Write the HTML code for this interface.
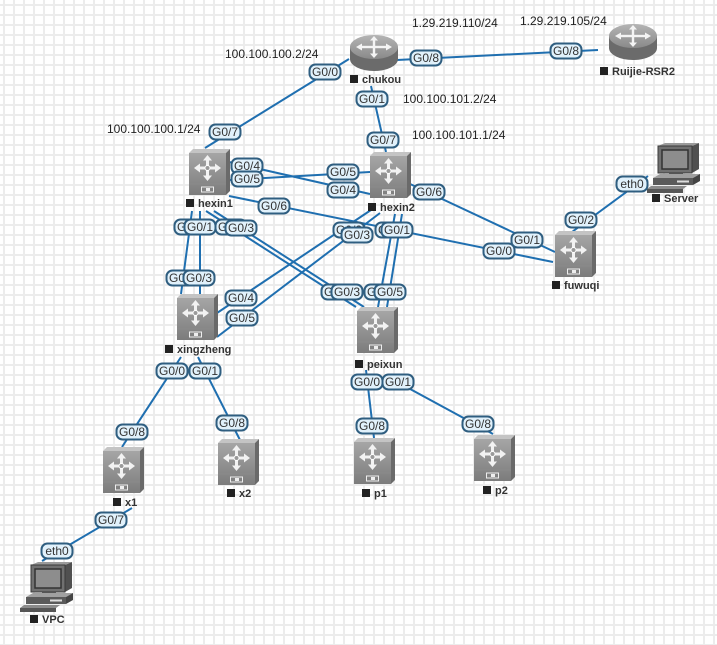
<!DOCTYPE html>
<html>
<head>
<meta charset="utf-8">
<style>
html,body{margin:0;padding:0;background:#fff;}
svg{display:block;}
.pl rect{fill:#e1f1fb;stroke:#2f5e80;stroke-width:2;}
.pl text{font-family:"Liberation Sans",sans-serif;font-size:12px;fill:#333;text-anchor:middle;}
.ip{font-family:"Liberation Sans",sans-serif;font-size:12px;fill:#222;}
.nm{font-family:"Liberation Sans",sans-serif;font-size:11px;font-weight:bold;fill:#333;}
.ln path{stroke:#1f6fb0;stroke-width:2;fill:none;}
</style>
</head>
<body>
<svg width="717" height="645" viewBox="0 0 717 645" xmlns="http://www.w3.org/2000/svg">
<defs>
  <pattern id="grid" patternUnits="userSpaceOnUse" x="3" y="4" width="10" height="10">
    <rect width="10" height="10" fill="#fff"/>
    <rect x="0" y="0" width="2" height="10" fill="#ececec"/>
    <rect x="0" y="0" width="10" height="2" fill="#ececec"/>
  </pattern>
  <linearGradient id="gsw" x1="0" y1="0" x2="0" y2="1">
    <stop offset="0" stop-color="#a6a6a6"/>
    <stop offset="1" stop-color="#7c7c7c"/>
  </linearGradient>
  <linearGradient id="grt" x1="0" y1="0" x2="0" y2="1">
    <stop offset="0" stop-color="#b4b4b4"/>
    <stop offset="1" stop-color="#8a8a8a"/>
  </linearGradient>
  <g id="sw">
    <polygon points="0,4 4,0 41,0 37,4" fill="#c4c4c4"/>
    <polygon points="37,4 41,0 41,42 37,46" fill="#6a6a6a"/>
    <rect x="0" y="4" width="37" height="42" fill="url(#gsw)"/>
    <line x1="0" y1="35" x2="37" y2="35" stroke="#8a8a8a" stroke-width="1"/>
    <rect x="12.5" y="38" width="12" height="5" fill="none" stroke="#eee" stroke-width="1"/>
    <rect x="17" y="39" width="4" height="3" fill="#eee"/>
    <g fill="#f2f2f2">
      <rect x="10" y="17.5" width="17" height="3"/>
      <rect x="17" y="11" width="3" height="16"/>
      <polygon points="5,19 11,14.5 11,23.5"/>
      <polygon points="32,19 26,14.5 26,23.5"/>
      <polygon points="18.5,6 14,11.5 23,11.5"/>
      <polygon points="18.5,32 14,26.5 23,26.5"/>
    </g>
    <circle cx="18.5" cy="19" r="2.5" fill="#9a9a9a" stroke="#fff" stroke-width="1"/>
  </g>
  <g id="rt">
    <path d="M0,14 v12 a24,12 0 0 0 48,0 v-12 z" fill="#6b6b6b"/>
    <ellipse cx="24" cy="14" rx="24" ry="12" fill="url(#grt)"/>
    <g fill="#f4f4f4">
      <rect x="12" y="12.8" width="24" height="2.4"/>
      <rect x="22.8" y="6" width="2.4" height="16"/>
      <polygon points="6,14 12,10.5 12,17.5"/>
      <polygon points="42,14 36,10.5 36,17.5"/>
      <polygon points="24,3 20,7.5 28,7.5"/>
      <polygon points="24,25 20,20.5 28,20.5"/>
    </g>
  </g>
  <g id="pc">
    <polygon points="45,3 52,0 52,26 45,30" fill="#505050"/>
    <polygon points="11,3 18,0 52,0 45,3" fill="#9a9a9a"/>
    <rect x="11" y="3" width="34" height="27" fill="#707070" stroke="#3a3a3a" stroke-width="1"/>
    <rect x="15" y="7" width="26" height="19" fill="#8d8d8d" stroke="#333" stroke-width="1.5"/>
    <rect x="22" y="30" width="14" height="3" fill="#555"/>
    <polygon points="6,35 13,31 53,31 46,35" fill="#a0a0a0"/>
    <rect x="6" y="35" width="40" height="7" fill="#5a5a5a"/>
    <polygon points="46,35 53,31 53,38 46,42" fill="#444"/>
    <rect x="30" y="37.5" width="12" height="2" fill="#ddd"/>
    <polygon points="0,46 4,43 40,43 36,46" fill="#8a8a8a"/>
    <rect x="0" y="46" width="36" height="4" fill="#555"/>
  </g>
</defs>

<rect width="717" height="645" fill="url(#grid)"/>

<g class="ln">
  <path d="M349,59 L205,148"/>
  <path d="M397,60 L598,50"/>
  <path d="M371,86 L386,152"/>
  <path d="M229,162 L370,194"/>
  <path d="M229,180 L370,172"/>
  <path d="M229,196 L553,262"/>
  <path d="M408,183 L555,252"/>
  <path d="M648,176 L572,232"/>
  <path d="M192,211 L181,294"/>
  <path d="M200,211 L200,294"/>
  <path d="M206,211 L356,307"/>
  <path d="M214,211 L364,307"/>
  <path d="M395,214 L378,307"/>
  <path d="M402,214 L387,307"/>
  <path d="M217,313 L371,210"/>
  <path d="M217,337 L380,213"/>
  <path d="M181,357 L122,447"/>
  <path d="M198,357 L240,440"/>
  <path d="M132,508 L42,561"/>
  <path d="M366,370 L374,438"/>
  <path d="M388,377 L493,434"/>
</g>

<!-- nodes -->
<use href="#sw" x="189" y="149"/>
<use href="#sw" x="370" y="152"/>
<use href="#sw" x="555" y="231"/>
<use href="#sw" x="177" y="294"/>
<use href="#sw" x="357" y="307"/>
<use href="#sw" x="103" y="447"/>
<use href="#sw" x="218" y="439"/>
<use href="#sw" x="354" y="438"/>
<use href="#sw" x="474" y="435"/>
<use href="#rt" x="350" y="33"/>
<use href="#rt" x="609" y="22"/>
<use href="#pc" x="647" y="143"/>
<use href="#pc" x="20" y="562"/>

<!-- node names -->
<g>
  <rect x="186" y="199" width="8" height="8" fill="#222"/><text class="nm" x="198" y="207">hexin1</text>
  <rect x="368" y="203" width="8" height="8" fill="#222"/><text class="nm" x="380" y="211">hexin2</text>
  <rect x="350" y="75" width="8" height="8" fill="#222"/><text class="nm" x="362" y="83">chukou</text>
  <rect x="600" y="67" width="8" height="8" fill="#222"/><text class="nm" x="612" y="75">Ruijie-RSR2</text>
  <rect x="652" y="194" width="8" height="8" fill="#222"/><text class="nm" x="664" y="202">Server</text>
  <rect x="552" y="281" width="8" height="8" fill="#222"/><text class="nm" x="564" y="289">fuwuqi</text>
  <rect x="165" y="345" width="8" height="8" fill="#222"/><text class="nm" x="177" y="353">xingzheng</text>
  <rect x="355" y="360" width="8" height="8" fill="#222"/><text class="nm" x="367" y="368">peixun</text>
  <rect x="113" y="498" width="8" height="8" fill="#222"/><text class="nm" x="125" y="506">x1</text>
  <rect x="227" y="489" width="8" height="8" fill="#222"/><text class="nm" x="239" y="497">x2</text>
  <rect x="30" y="615" width="8" height="8" fill="#222"/><text class="nm" x="42" y="623">VPC</text>
  <rect x="362" y="489" width="8" height="8" fill="#222"/><text class="nm" x="374" y="497">p1</text>
  <rect x="483" y="486" width="8" height="8" fill="#222"/><text class="nm" x="495" y="494">p2</text>
</g>

<!-- IP labels -->
<text class="ip" x="225" y="58">100.100.100.2/24</text>
<text class="ip" x="107" y="133">100.100.100.1/24</text>
<text class="ip" x="412" y="27">1.29.219.110/24</text>
<text class="ip" x="520" y="25">1.29.219.105/24</text>
<text class="ip" x="403" y="103">100.100.101.2/24</text>
<text class="ip" x="412" y="139">100.100.101.1/24</text>

<!-- port pills -->
<g class="pl">
  <g transform="translate(325,72)"><rect x="-15.5" y="-7.5" width="31" height="15" rx="6"/><text y="4">G0/0</text></g>
  <g transform="translate(225,132)"><rect x="-15.5" y="-7.5" width="31" height="15" rx="6"/><text y="4">G0/7</text></g>
  <g transform="translate(426,58)"><rect x="-15.5" y="-7.5" width="31" height="15" rx="6"/><text y="4">G0/8</text></g>
  <g transform="translate(566,51)"><rect x="-15.5" y="-7.5" width="31" height="15" rx="6"/><text y="4">G0/8</text></g>
  <g transform="translate(372,99)"><rect x="-15.5" y="-7.5" width="31" height="15" rx="6"/><text y="4">G0/1</text></g>
  <g transform="translate(383,140)"><rect x="-15.5" y="-7.5" width="31" height="15" rx="6"/><text y="4">G0/7</text></g>
  <g transform="translate(247,166)"><rect x="-15.5" y="-7.5" width="31" height="15" rx="6"/><text y="4">G0/4</text></g>
  <g transform="translate(247,179)"><rect x="-15.5" y="-7.5" width="31" height="15" rx="6"/><text y="4">G0/5</text></g>
  <g transform="translate(343,172)"><rect x="-15.5" y="-7.5" width="31" height="15" rx="6"/><text y="4">G0/5</text></g>
  <g transform="translate(343,190)"><rect x="-15.5" y="-7.5" width="31" height="15" rx="6"/><text y="4">G0/4</text></g>
  <g transform="translate(274,206)"><rect x="-15.5" y="-7.5" width="31" height="15" rx="6"/><text y="4">G0/6</text></g>
  <g transform="translate(429,192)"><rect x="-15.5" y="-7.5" width="31" height="15" rx="6"/><text y="4">G0/6</text></g>
  <g transform="translate(632,184)"><rect x="-15.5" y="-7.5" width="31" height="15" rx="6"/><text y="4">eth0</text></g>
  <g transform="translate(581,220)"><rect x="-15.5" y="-7.5" width="31" height="15" rx="6"/><text y="4">G0/2</text></g>
  <g transform="translate(499,251)"><rect x="-15.5" y="-7.5" width="31" height="15" rx="6"/><text y="4">G0/0</text></g>
  <g transform="translate(527,240)"><rect x="-15.5" y="-7.5" width="31" height="15" rx="6"/><text y="4">G0/1</text></g>
  <g transform="translate(190,227)"><rect x="-15.5" y="-7.5" width="31" height="15" rx="6"/><text y="4">G0/0</text></g>
  <g transform="translate(200,227)"><rect x="-15.5" y="-7.5" width="31" height="15" rx="6"/><text y="4">G0/1</text></g>
  <g transform="translate(231,227)"><rect x="-15.5" y="-7.5" width="31" height="15" rx="6"/><text y="4">G0/2</text></g>
  <g transform="translate(241,228)"><rect x="-15.5" y="-7.5" width="31" height="15" rx="6"/><text y="4">G0/3</text></g>
  <g transform="translate(182,278)"><rect x="-15.5" y="-7.5" width="31" height="15" rx="6"/><text y="4">G0/2</text></g>
  <g transform="translate(199,278)"><rect x="-15.5" y="-7.5" width="31" height="15" rx="6"/><text y="4">G0/3</text></g>
  <g transform="translate(241,298)"><rect x="-15.5" y="-7.5" width="31" height="15" rx="6"/><text y="4">G0/4</text></g>
  <g transform="translate(242,318)"><rect x="-15.5" y="-7.5" width="31" height="15" rx="6"/><text y="4">G0/5</text></g>
  <g transform="translate(349,230)"><rect x="-15.5" y="-7.5" width="31" height="15" rx="6"/><text y="4">G0/2</text></g>
  <g transform="translate(357,235)"><rect x="-15.5" y="-7.5" width="31" height="15" rx="6"/><text y="4">G0/3</text></g>
  <g transform="translate(391,230)"><rect x="-15.5" y="-7.5" width="31" height="15" rx="6"/><text y="4">G0/0</text></g>
  <g transform="translate(397,230)"><rect x="-15.5" y="-7.5" width="31" height="15" rx="6"/><text y="4">G0/1</text></g>
  <g transform="translate(337,292)"><rect x="-15.5" y="-7.5" width="31" height="15" rx="6"/><text y="4">G0/2</text></g>
  <g transform="translate(347,292)"><rect x="-15.5" y="-7.5" width="31" height="15" rx="6"/><text y="4">G0/3</text></g>
  <g transform="translate(380,292)"><rect x="-15.5" y="-7.5" width="31" height="15" rx="6"/><text y="4">G0/4</text></g>
  <g transform="translate(390,292)"><rect x="-15.5" y="-7.5" width="31" height="15" rx="6"/><text y="4">G0/5</text></g>
  <g transform="translate(367,382)"><rect x="-15.5" y="-7.5" width="31" height="15" rx="6"/><text y="4">G0/0</text></g>
  <g transform="translate(398,382)"><rect x="-15.5" y="-7.5" width="31" height="15" rx="6"/><text y="4">G0/1</text></g>
  <g transform="translate(372,426)"><rect x="-15.5" y="-7.5" width="31" height="15" rx="6"/><text y="4">G0/8</text></g>
  <g transform="translate(478,424)"><rect x="-15.5" y="-7.5" width="31" height="15" rx="6"/><text y="4">G0/8</text></g>
  <g transform="translate(172,371)"><rect x="-15.5" y="-7.5" width="31" height="15" rx="6"/><text y="4">G0/0</text></g>
  <g transform="translate(205,371)"><rect x="-15.5" y="-7.5" width="31" height="15" rx="6"/><text y="4">G0/1</text></g>
  <g transform="translate(132,432)"><rect x="-15.5" y="-7.5" width="31" height="15" rx="6"/><text y="4">G0/8</text></g>
  <g transform="translate(232,423)"><rect x="-15.5" y="-7.5" width="31" height="15" rx="6"/><text y="4">G0/8</text></g>
  <g transform="translate(111,520)"><rect x="-15.5" y="-7.5" width="31" height="15" rx="6"/><text y="4">G0/7</text></g>
  <g transform="translate(57,551)"><rect x="-15.5" y="-7.5" width="31" height="15" rx="6"/><text y="4">eth0</text></g>
</g>
</svg>
</body>
</html>
